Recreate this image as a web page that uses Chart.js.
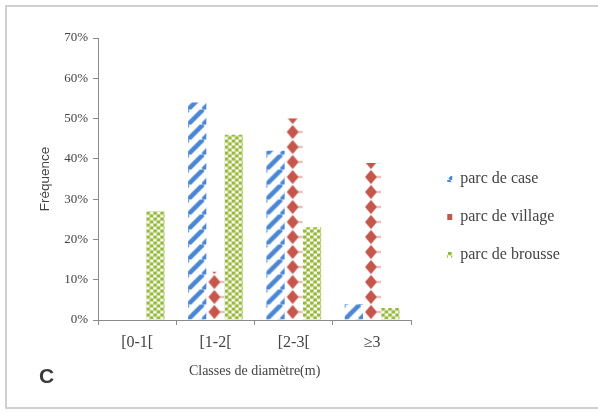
<!DOCTYPE html>
<html>
<head>
<meta charset="utf-8">
<script src="https://cdn.jsdelivr.net/npm/chart.js@4"></script>
<style>
  html, body { margin: 0; padding: 0; background: #fff; }
  #wrap { position: relative; width: 598px; height: 412px; overflow: hidden; }
  #frame { position: absolute; left: 5px; top: 5px; width: 600px; height: 404px;
           border: 2px solid #d0d0d0; box-sizing: border-box; }
  #tag { position: absolute; left: 39px; top: 364px; font: bold 21px "Liberation Sans", Arial, sans-serif; color: #3a3a3a; }
  canvas { position: absolute; left: 0; top: 0; }
</style>
</head>
<body>
<div id="wrap">
  <div id="frame"></div>
  <canvas id="chart" width="598" height="412"></canvas>
  <div id="tag">C</div>
</div>
<script>
// ---------- data ----------
const categories   = ['[0-1[', '[1-2[', '[2-3[', '\u22653'];
const seriesNames  = ['parc de case', 'parc de village', 'parc de brousse'];
const parcCase     = [0, 54, 42, 4];
const parcVillage  = [0, 12, 50, 39];
const parcBrousse  = [27, 46, 23, 3];
const yTicks       = [0, 10, 20, 30, 40, 50, 60, 70];

// ---------- pattern tiles ----------
const BLUE  = '#4a86d4';
const RED   = '#c4564c';
const GREEN = '#96b93a';

function tileStripes() {
  const c = document.createElement('canvas');
  const s = 15;
  c.width = s; c.height = s;
  const g = c.getContext('2d');
  g.strokeStyle = BLUE;
  g.lineWidth = 4.5;
  for (const x0 of [-s, 0, s]) {
    g.beginPath();
    g.moveTo(x0, s);
    g.lineTo(x0 + s, 0);
    g.stroke();
  }
  return c;
}

function tileDiamonds(w) {
  const c = document.createElement('canvas');
  const h = 15;
  c.width = w; c.height = h;
  const g = c.getContext('2d');
  const cx = w / 2 - 1, cy = h / 2;
  g.fillStyle = RED;
  g.beginPath();
  g.moveTo(cx, cy - 7);
  g.lineTo(cx + 6, cy);
  g.lineTo(cx, cy + 7);
  g.lineTo(cx - 6, cy);
  g.closePath();
  g.fill();
  // little wing on the right
  g.strokeStyle = 'rgba(196,86,76,0.6)';
  g.lineWidth = 1.5;
  g.beginPath();
  g.moveTo(cx + 5, cy);
  g.lineTo(w, cy);
  g.stroke();
  return c;
}

function tileDots() {
  const c = document.createElement('canvas');
  c.width = 7; c.height = 6;
  const g = c.getContext('2d');
  g.fillStyle = GREEN;
  for (const [x, y] of [[1.75, 1.5], [5.25, 4.5]]) {
    g.beginPath();
    g.arc(x, y, 2.1, 0, Math.PI * 2);
    g.fill();
  }
  return c;
}

const ctx = document.getElementById('chart').getContext('2d');
// dataset-level fills (these show up in the legend boxes)
const legendFills = [
  ctx.createPattern(tileStripes(), 'repeat'),
  RED,
  ctx.createPattern(tileDots(), 'repeat')
];

function barPattern(di, left, base, width) {
  const tile = di === 0 ? tileStripes() : di === 1 ? tileDiamonds(Math.round(width)) : tileDots();
  const p = ctx.createPattern(tile, 'repeat');
  p.setTransform(new DOMMatrix([1, 0, 0, 1, left, base]));
  return p;
}

// anchor each bar's pattern to its own left/bottom edge
const barPatternPlugin = {
  id: 'barPatterns',
  beforeDatasetsDraw(chart) {
    chart.data.datasets.forEach((ds, di) => {
      chart.getDatasetMeta(di).data.forEach(bar => {
        bar.options.backgroundColor = barPattern(di, bar.x - bar.width / 2, bar.base, bar.width);
      });
    });
  }
};

// push the legend a bit right of the plot area and a little lower
const legendShift = {
  id: 'legendShift',
  afterLayout(chart) {
    chart.legend.left += 14;
    chart.legend.right += 45;
    chart.legend.top += 8;
    chart.legend.bottom += 8;
  }
};

const serif = '"Liberation Serif", "Times New Roman", serif';
const textColor = '#444';

new Chart(ctx, {
  type: 'bar',
  data: {
    labels: categories,
    datasets: [parcCase, parcVillage, parcBrousse].map((vals, i) => ({
      label: seriesNames[i],
      data: vals,
      backgroundColor: c => legendFills[c.datasetIndex],
      borderWidth: 0,
      categoryPercentage: 0.7,
      barPercentage: 1
    }))
  },
  options: {
    responsive: false,
    animation: false,
    layout: { padding: { left: 34, top: 38, right: 61, bottom: 32 } },
    plugins: {
      tooltip: { enabled: false },
      legend: {
        position: 'right',
        labels: {
          boxWidth: 5,
          boxHeight: 6,
          padding: 22,
          color: textColor,
          font: { family: serif, size: 16 }
        }
      }
    },
    scales: {
      x: {
        grid: { drawOnChartArea: false, tickLength: 5, color: '#8a8a8a', offset: true },
        border: { color: '#8a8a8a', width: 1 },
        ticks: { color: textColor, padding: 8, font: { family: serif, size: 16 } },
        title: {
          display: true,
          text: 'Classes de diamètre(m)',
          color: textColor,
          font: { family: serif, size: 14 },
          padding: { top: 2, bottom: 0 }
        },
        afterFit(scale) { scale.height = 60; }
      },
      y: {
        min: 0,
        max: 70,
        afterBuildTicks(scale) { scale.ticks = yTicks.map(v => ({ value: v })); },
        grid: { drawOnChartArea: false, tickLength: 5, color: '#8a8a8a' },
        border: { color: '#8a8a8a', width: 1 },
        ticks: {
          color: textColor,
          padding: 5,
          font: { family: serif, size: 13 },
          callback: v => v + '%'
        },
        title: {
          display: true,
          text: 'Fréquence',
          color: textColor,
          font: { family: '"Liberation Sans", Arial, sans-serif', size: 13.5 },
          padding: { top: 3, bottom: 4 }
        },
        afterFit(scale) { scale.width = 64; }
      }
    }
  },
  plugins: [barPatternPlugin, legendShift]
});
</script>
</body>
</html>
